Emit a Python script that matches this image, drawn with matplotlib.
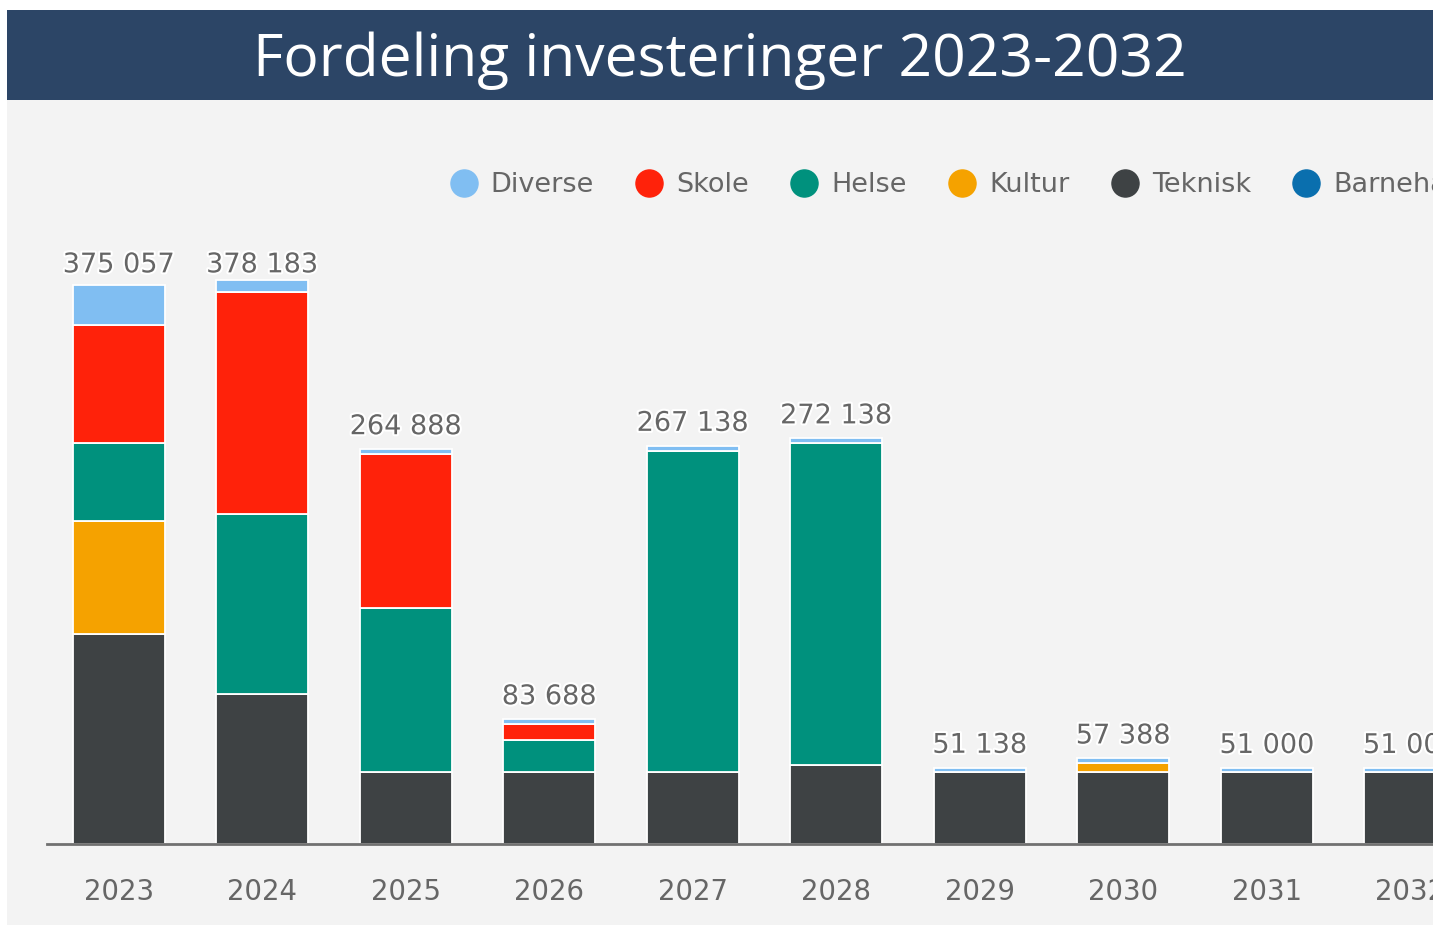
import matplotlib
matplotlib.use("Agg")
import matplotlib.pyplot as plt
import matplotlib.patheffects as pe
from matplotlib.patches import Rectangle
from matplotlib.lines import Line2D
import numpy as np

years = ["2023", "2024", "2025", "2026", "2027", "2028", "2029", "2030", "2031", "2032"]
teknisk = [141000, 100500, 48000, 48000, 48000, 53000, 48000, 48000, 48000, 48000]
kultur = [75500, 0, 0, 0, 0, 0, 0, 6250, 0, 0]
helse = [52400, 121000, 110500, 22000, 216000, 216000, 0, 0, 0, 0]
skole = [79200, 148800, 103250, 10550, 0, 0, 0, 0, 0, 0]
barnehage = [0, 0, 0, 0, 0, 0, 0, 0, 0, 0]
diverse = [26957, 7883, 3138, 3138, 3138, 3138, 3138, 3138, 3000, 3000]

series = [("Teknisk", teknisk, "#3e4244"),
          ("Kultur", kultur, "#f5a200"),
          ("Helse", helse, "#00917d"),
          ("Skole", skole, "#ff220a"),
          ("Barnehage", barnehage, "#0a6fae"),
          ("Diverse", diverse, "#80bef2")]
legend_order = ["Diverse", "Skole", "Helse", "Kultur", "Teknisk", "Barnehage"]

W, H = 1442, 926
fig = plt.figure(figsize=(W / 100, H / 100), dpi=100)
fig.patch.set_facecolor("#f3f3f3")

def frect(x0, y0, x1, y1, color, z):
    fig.patches.append(Rectangle((x0 / W, 1 - y1 / H), (x1 - x0) / W, (y1 - y0) / H,
                                 transform=fig.transFigure, facecolor=color,
                                 edgecolor="none", zorder=z))

# title band
frect(7, 10, 1433, 100, "#2c4566", 1)
fig.text(720 / W, 1 - 61 / H, "Fordeling investeringer 2023-2032", color="white",
         fontsize=42.3, family="Open Sans", ha="center", va="center", zorder=2)

left, right = 47, 1482
top, bottom = 230, 844
ax = fig.add_axes([left / W, 1 - bottom / H, (right - left) / W, (bottom - top) / H])
ax.set_zorder(3)
ax.set_facecolor("none")
ax.set_xlim(-0.5, len(years) - 0.5)
ax.set_ylim(0, 412000)

x = np.arange(len(years))
base = np.zeros(len(years))
for name, vals, col in series:
    v = np.array(vals, dtype=float)
    ax.bar(x, v, bottom=base, width=0.64, color=col, edgecolor="white", linewidth=1.3, zorder=3)
    base += v

totals = base
label_cap = 373500  # labels are kept inside the plot area
for xi, t in zip(x, totals):
    s = f"{int(round(t)):,}".replace(",", " ")
    ax.annotate(s, (xi, min(t, label_cap)), xytext=(0, 6.5), textcoords="offset points",
                ha="center", va="bottom", fontsize=19.5, color="#666666", zorder=5,
                annotation_clip=False,
                path_effects=[pe.withStroke(linewidth=3, foreground="white")])

for sp in ["top", "right", "left"]:
    ax.spines[sp].set_visible(False)
ax.spines["bottom"].set_color("#707070")
ax.spines["bottom"].set_linewidth(2)
ax.spines["bottom"].set_zorder(6)
ax.set_yticks([])
ax.set_xticks(x)
ax.set_xticklabels(years, fontsize=19.8, color="#666666")
ax.tick_params(axis="x", length=0, pad=24.5)

colors = {n: c for n, _, c in series}
handles = [Line2D([], [], marker="o", linestyle="none", markersize=19.5,
                  markerfacecolor=colors[n], markeredgecolor=colors[n]) for n in legend_order]
leg = fig.legend(handles, legend_order, ncol=6, loc="center left",
                 bbox_to_anchor=(450 / W, 1 - 185 / H), frameon=False, fontsize=19.5,
                 labelcolor="#666666", handlelength=1.0, handletextpad=0.5, columnspacing=1.54,
                 borderpad=0, borderaxespad=0)
leg.set_zorder(4)

# white outer margins (chart is cropped at the panel edges)
overlay = fig.add_axes([0, 0, 1, 1], zorder=10)
overlay.set_axis_off()
overlay.set_xlim(0, W)
overlay.set_ylim(H, 0)
overlay.patch.set_alpha(0)
for (x0, y0, x1, y1) in [(0, 0, 7, H), (1433, 0, W, H), (0, 0, W, 10), (0, 925, W, H)]:
    overlay.add_patch(Rectangle((x0, y0), x1 - x0, y1 - y0, facecolor="white", edgecolor="none"))

fig.savefig("out.png", dpi=100)
